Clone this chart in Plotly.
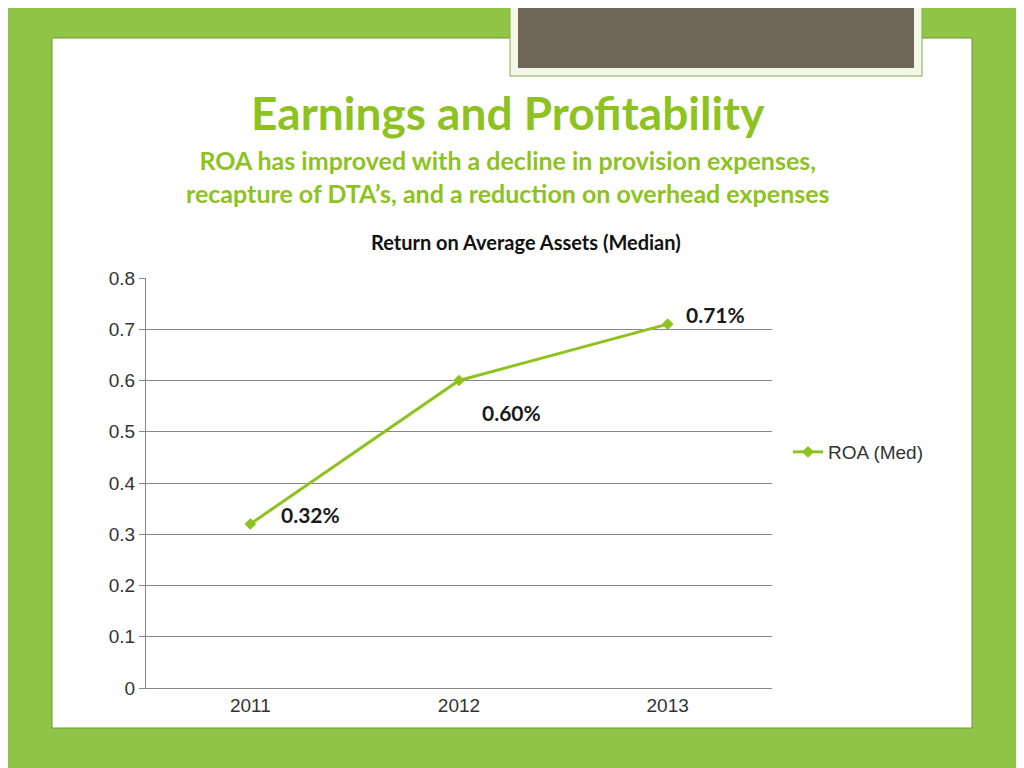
import plotly.graph_objects as go

years = ["2011", "2012", "2013"]
roa = [0.32, 0.60, 0.71]
labels = ["0.32%", "0.60%", "0.71%"]
label_shift_x = [60, 52, 48]
label_shift_y = [10, -32, 10]
yticks = [0, 0.1, 0.2, 0.3, 0.4, 0.5, 0.6, 0.7, 0.8]

OFF = 8
W, H = 1024 - OFF, 768 - OFF
L, R, T, B = 146 - OFF, 772 - OFF, 278 - OFF, 688 - OFF
def px(x): return (x - OFF - L) / (R - L)
def py(y): return (B - (y - OFF)) / (B - T)

green = "#8DC21F"
fig = go.Figure(go.Scatter(
    x=years, y=roa, mode="lines+markers", name="ROA (Med)",
    line=dict(color=green, width=3),
    marker=dict(symbol="diamond", size=9, color=green)))

for i, (yv, t, dx, dy) in enumerate(zip(roa, labels, label_shift_x, label_shift_y)):
    fig.add_annotation(xref="x", yref="y", x=i, y=yv, text=f"<b>{t}</b>", showarrow=False,
                       xanchor="center", yanchor="middle",
                       xshift=dx, yshift=dy, font=dict(size=21, color="#1a1a1a", family="Lato"))

shapes = [
    dict(type="rect", xref="paper", yref="paper", x0=px(52), x1=px(972), y0=py(728), y1=py(38),
         fillcolor="white", line=dict(color="#6a9a30", width=1), layer="below"),
    dict(type="rect", xref="paper", yref="paper", x0=px(510), x1=px(922), y0=py(76), y1=py(-5),
         fillcolor="#f2f7e8", line=dict(color="#7cae3a", width=1), layer="below"),
    dict(type="rect", xref="paper", yref="paper", x0=px(518), x1=px(914), y0=py(68), y1=py(-5),
         fillcolor="#6f6758", line=dict(width=0), layer="below"),
]
fig.update_layout(shapes=shapes)

def txt(x, y, s, size, color):
    fig.add_annotation(xref="paper", yref="paper", x=px(x), y=py(y), text=s, showarrow=False,
                       xanchor="center", yanchor="middle",
                       font=dict(size=size, color=color, family="Lato"))

txt(508, 112, "<b>Earnings and Profitability</b>", 46, green)
txt(508, 176, "<b>ROA has improved with a decline in provision expenses,<br>recapture of DTA’s, and a reduction on overhead expenses</b>", 25, green)
txt(526, 242, "<b>Return on Average Assets (Median)</b>", 20, "#111")

fig.update_layout(
    width=W, height=H, margin=dict(l=L, r=W - R, t=T, b=H - B),
    paper_bgcolor="#8fc447", plot_bgcolor="rgba(0,0,0,0)",
    font=dict(family="Liberation Sans", size=18, color="#333"),
    showlegend=True,
    legend=dict(x=px(788), y=py(452), xanchor="left", yanchor="middle",
                font=dict(size=19, color="#333"), bgcolor="rgba(0,0,0,0)"),
    xaxis=dict(type="category", range=[-0.5, 2.5], showgrid=False, showline=True,
               linecolor="#888", ticks="outside", ticklen=0, tickfont=dict(size=19)),
    yaxis=dict(range=[0, 0.8], tickvals=yticks, ticktext=[str(v) if v else "0" for v in yticks],
               showgrid=True, gridcolor="#888", showline=True, linecolor="#888",
               ticks="outside", ticklen=6, tickcolor="#888", tickfont=dict(size=19), zeroline=False),
)
fig.write_html("out.html")
